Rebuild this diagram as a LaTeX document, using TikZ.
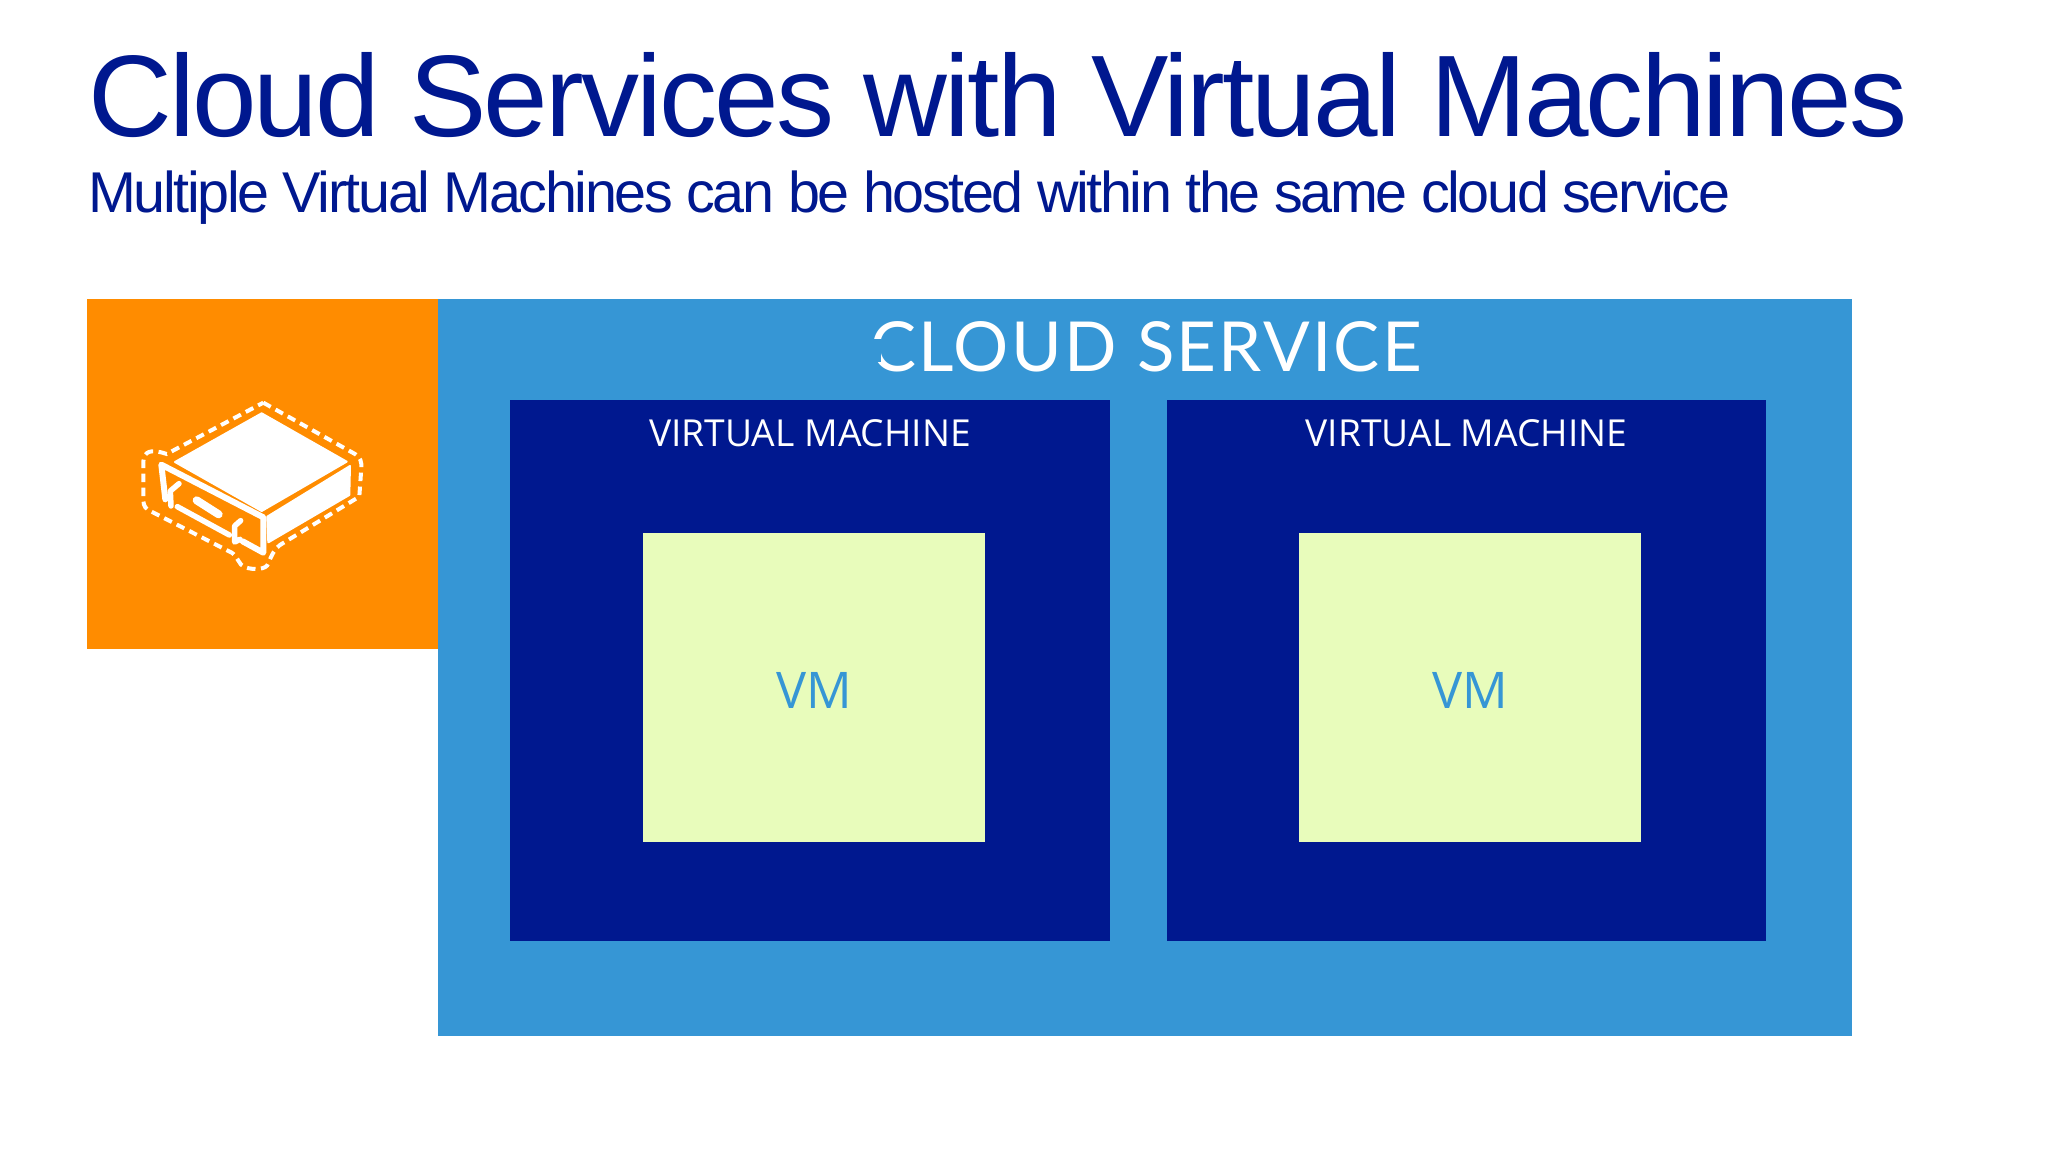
\documentclass[tikz,border=0pt]{standalone}
\usepackage{fontspec}
\setmainfont{Liberation Sans}
\newfontfamily\titlefont[LetterSpace=-2.42]{Liberation Sans}
\newfontfamily\subfont[LetterSpace=-4.2]{Liberation Sans}
\newfontfamily\segoe{Open Sans}
\newfontfamily\cloudfont[LetterSpace=3.3]{Lato}
\definecolor{navy}{HTML}{00188F}
\definecolor{cloudblue}{HTML}{3696D5}
\definecolor{amber}{HTML}{FF8C00}
\definecolor{lime}{HTML}{E8FCBB}
\tikzset{
  block/.style={inner sep=0pt,outer sep=0pt,anchor=north west},
  vmhead/.style={text=white,font=\segoe\fontsize{37.2}{40}\selectfont,anchor=base},
  vmtext/.style={text=cloudblue,font=\segoe\fontsize{50.5}{52}\selectfont,anchor=center},
  iconline/.style={draw=white,line width=5.5pt,line join=round,line cap=round},
  iconfill/.style={fill=white,draw=white,line width=2pt,line join=round},
  icondash/.style={draw=white,line width=4pt,dash pattern=on 8.5pt off 5.5pt,line cap=butt}
}
\begin{document}
\begin{tikzpicture}[x=1pt,y=-1pt]
\useasboundingbox (0,0) rectangle (2048,1152);
\fill[white] (0,0) rectangle (2048,1152);
\node[anchor=base west,inner sep=0pt,text=navy,font=\titlefont\fontsize{116}{120}\selectfont] (title) at (88,136.7) {Cloud Services with Virtual Machines};
\node[anchor=base west,inner sep=0pt,text=navy,font=\subfont\fontsize{57.5}{62}\selectfont] (subtitle) at (88,212.5) {Multiple Virtual Machines can be hosted within the same cloud service};
\node[block,fill=amber,minimum width=350.5pt,minimum height=350pt] (host) at (87,299) {};
\node[block,fill=cloudblue,minimum width=1414.5pt,minimum height=737pt] (cloud) at (437.5,299) {};
\node[block,fill=navy,minimum width=599.5pt,minimum height=540.5pt] (vma) at (510,400) {};
\node[block,fill=navy,minimum width=599.5pt,minimum height=540.5pt] (vmb) at (1166.5,400) {};
\node[block,fill=lime,minimum width=342.5pt,minimum height=309pt] (boxa) at (642.5,533) {};
\node[block,fill=lime,minimum width=342.5pt,minimum height=309pt] (boxb) at (1298.5,533) {};
\node[anchor=base,inner sep=0pt,text=white,font=\cloudfont\fontsize{69}{72}\selectfont] (cloudlabel) at (1146,371) {CLOUD SERVICE};
\fill[cloudblue] (868,339) rectangle (880.5,362);
\node[vmhead] (heada) at (810,446) {VIRTUAL MACHINE};
\node[vmhead] (headb) at (1466.5,446) {VIRTUAL MACHINE};
\node[vmtext,yshift=-2.5pt,xshift=1pt] (labela) at (boxa.center) {VM};
\node[vmtext,yshift=-2.5pt,xshift=1pt] (labelb) at (boxb.center) {VM};
\begin{scope}[shift={(120,380)},x=0.3333pt,y=-0.3333pt]
\path[iconfill] (165,246) -- (425,100) -- (680,245) -- (425,393) -- cycle;
\path[iconfill] (442,410) -- (690,258) -- (688,345) -- (445,487) -- cycle;
\draw[iconline,line width=6pt] (136,358) -- (124,254) -- (430,412) -- (430,518) -- (368,484);
\draw[iconline] (177,311) -- (151,333) -- (153,378);
\draw[iconline] (362,422) -- (344,438) -- (344,486) -- (360,478);
\draw[iconline,line width=8pt] (230,361) -- (296,403);
\draw[iconline] (172,380) -- (328,465);
\draw[icondash] (430,68) -- (705,222) .. controls (722,232) and (725,245) .. (724,265) -- (718,350) -- (480,495) .. controls (465,505) and (455,525) .. (445,550) .. controls (440,570) and (400,570) .. (375,562) .. controls (355,555) and (355,530) .. (335,518) -- (85,390) .. controls (70,380) and (70,370) .. (70,350) -- (70,245) .. controls (72,215) and (90,205) .. (140,222) -- cycle;
\end{scope}
\end{tikzpicture}
\end{document}
